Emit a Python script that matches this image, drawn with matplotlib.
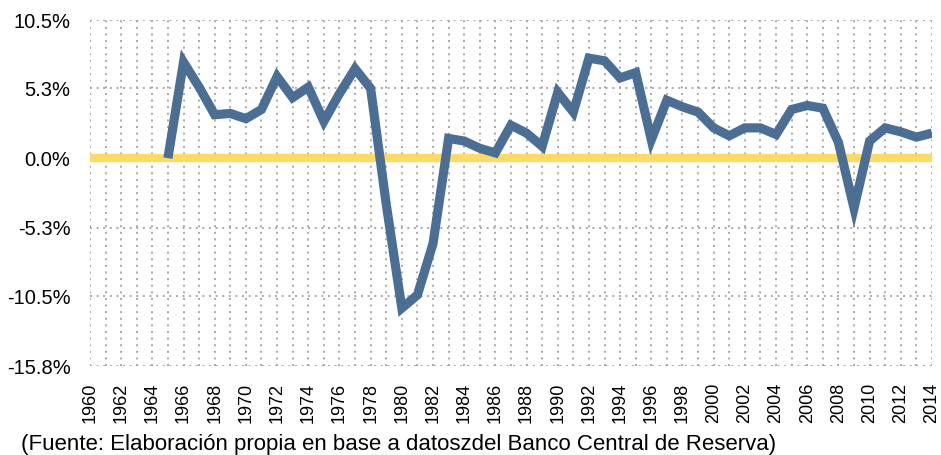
import numpy as np
import matplotlib
matplotlib.use("Agg")
import matplotlib.pyplot as plt

plt.rcParams['font.family'] = ['Liberation Sans', 'DejaVu Sans']

# Data (growth rate, %), 1960-1964 without data
years = list(range(1960, 2015))
growth = [np.nan, np.nan, np.nan, np.nan, np.nan,
          0.0, 7.3, 5.4, 3.3, 3.4, 3.0, 3.7, 6.2, 4.6, 5.4,
          2.8, 4.9, 6.8, 5.3, -3.5, -11.4, -10.4, -6.5, 1.5, 1.3,
          0.75, 0.4, 2.5, 1.9, 0.9, 5.0, 3.5, 7.6, 7.4, 6.1,
          6.5, 1.4, 4.4, 3.9, 3.5, 2.3, 1.7, 2.3, 2.3, 1.8,
          3.7, 4.0, 3.8, 1.2, -3.8, 1.3, 2.3, 2.0, 1.6, 1.9]
zero_line = [0.0] * len(years)

y_ticks = [10.5, 5.3, 0.0, -5.3, -10.5, -15.8]
y_labels = ['10.5%', '5.3%', '0.0%', '-5.3%', '-10.5%', '-15.8%']
x_ticks = list(range(1960, 2015, 2))
caption = "(Fuente: Elaboración propia en base a datoszdel Banco Central de Reserva)"

fig = plt.figure(figsize=(9.41, 4.55), dpi=100)
ax = fig.add_axes([0.0956, 0.1956, 0.8948, 0.7604])

# dotted grid: every year vertically, major ticks horizontally
grid_kw = dict(color='#a8a8a8', linewidth=1.4, linestyle=(0, (1, 2.4)), zorder=0)
for yr in years:
    ax.axvline(yr, **grid_kw)
for yt in y_ticks:
    ax.axhline(yt, **grid_kw)

ax.plot(years, zero_line, color='#ffdb66', linewidth=6.0, solid_capstyle='butt', zorder=2)
ax.plot(years, growth, color='#4b6f94', linewidth=6.6, solid_joinstyle='miter',
        solid_capstyle='butt', zorder=3)

ax.set_xlim(1960, 2014)
ax.set_ylim(-15.8, 10.5)
ax.set_yticks(y_ticks)
ax.set_yticklabels(y_labels, fontsize=14.5)
ax.set_xticks(x_ticks)
ax.set_xticklabels([str(x) for x in x_ticks], rotation=90, fontsize=13)
ax.tick_params(length=0)
ax.tick_params(axis='y', pad=14)
ax.tick_params(axis='x', pad=12)
for s in ax.spines.values():
    s.set_visible(False)

fig.text(0.022, 0.011, caption, fontsize=16, ha='left', va='baseline')

fig.savefig('out.png', dpi=100)
